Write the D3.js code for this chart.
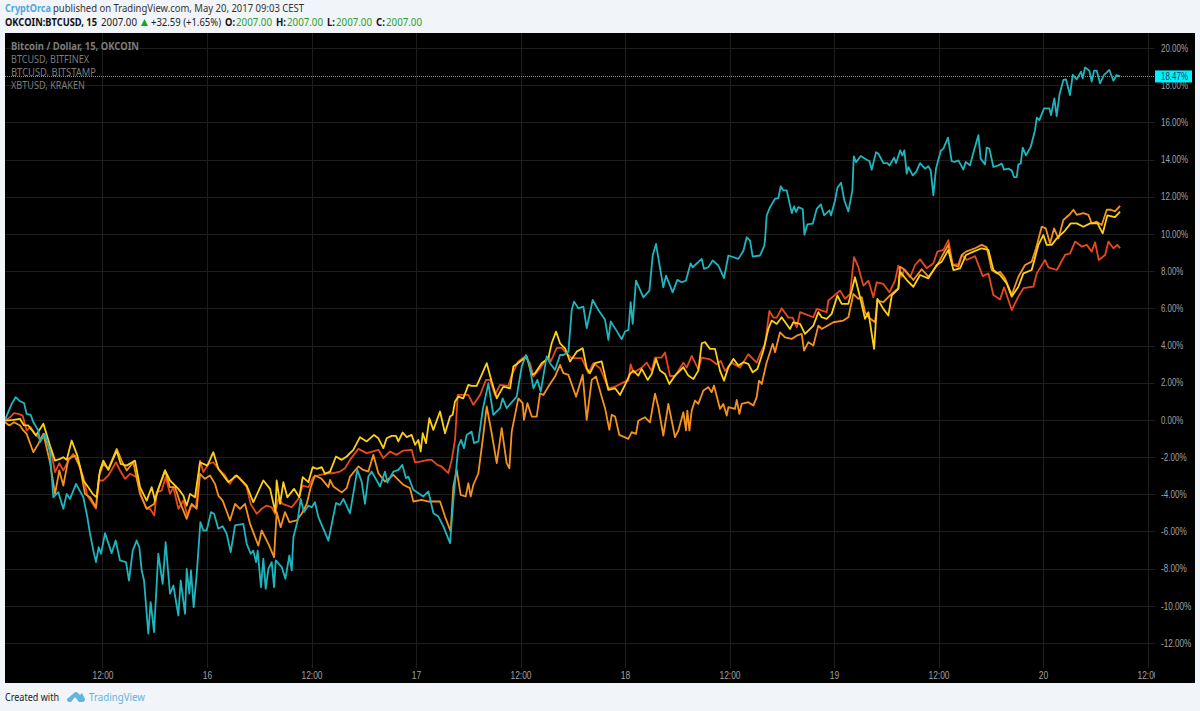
<!DOCTYPE html>
<html><head><meta charset="utf-8">
<script src="https://d3js.org/d3.v7.min.js"></script>
<style>html,body{margin:0;padding:0;background:#f1f4f8}svg{display:block}</style>
</head><body><svg id="c" width="1200" height="711"></svg>
<script>
// Each series: [hours since May 15 00:00, % change]
const okcoin = [[.8,0],[1.57,.86],[2.03,1.22],[2.53,1],[2.99,.9],[3.29,.32],[3.75,.27],[4.06,-.13],[4.63,-.57],[4.82,-1.2],[5.4,-.75],[5.97,-1.74],[6.35,-4.16],[6.93,-3.89],[7.5,-4.78],[7.89,-3.98],[8.27,-4.25],[8.96,-3.44],[9.8,-4.16],[10.26,-5.23],[10.57,-6.13],[10.95,-7.03],[11.25,-7.65],[11.56,-6.85],[11.83,-7.2],[12.29,-6.09],[13.05,-7.17],[13.51,-6.49],[14.01,-7.56],[14.7,-7.65],[15.04,-8.64],[15.47,-7.03],[15.92,-6.49],[16.23,-6.85],[16.5,-8.1],[16.77,-8.64],[17.26,-11.5],[17.53,-9.8],[17.92,-11.42],[18.41,-7.2],[18.91,-8.82],[19.25,-6.58],[19.75,-9.35],[20.14,-8.91],[20.71,-10.52],[20.98,-8.64],[21.48,-10.43],[21.67,-8.01],[21.97,-9.35],[22.16,-8.1],[22.47,-10.07],[22.82,-8.28],[23.24,-5.5],[23.58,-5.95],[23.96,-5.95],[24.46,-4.96],[24.81,-5.05],[25.3,-5.86],[25.8,-5.72],[26.26,-6.13],[26.72,-7.11],[27.22,-5.68],[28.17,-5.59],[28.56,-6.67],[29.02,-7.2],[29.32,-7.03],[29.63,-7.65],[29.82,-7.03],[30.2,-9],[30.47,-7.47],[30.74,-9.09],[31.05,-8.01],[31.43,-7.65],[31.7,-9],[31.89,-7.56],[32.58,-7.92],[33,-8.55],[33.46,-7.29],[33.73,-8.1],[33.92,-6.31],[34.41,-5.41],[34.76,-4.25],[35.14,-4.96],[35.64,-4.61],[36.02,-4.7],[36.4,-4.43],[36.79,-5.23],[37.94,-6.49],[38.81,-4.48],[39.27,-4.57],[39.66,-4.25],[40.42,-5.02],[41.26,-2.69],[41.76,-3.32],[42.14,-4.52],[42.53,-3.05],[42.91,-2.78],[43.87,-3.58],[44.44,-2.78],[44.71,-3.37],[45.4,-2.78],[45.97,-2.69],[46.43,-2.42],[46.85,-3.14],[47.12,-3.05],[47.7,-3.76],[48.84,-4.12],[49.42,-3.85],[50,-5.02],[50.57,-5.2],[51.14,-5.73],[51.91,-6.63],[52.29,-4.3],[52.86,-1.43],[53.17,-1.08],[53.51,-1.52],[53.82,-.81],[54.39,-.63],[54.66,-1.25],[55.16,-1.16],[55.66,.54],[56.31,1.97],[56.88,.27],[57.65,.63],[57.95,1.16],[58.41,.63],[59.56,1.25],[60.14,2.87],[60.63,3.49],[61.02,2.96],[61.48,1.7],[61.94,2.15],[62.32,1.52],[63.01,3.41],[63.39,3.05],[63.96,2.69],[64.54,3.49],[64.92,3.49],[65.5,3.67],[65.88,5.91],[66.15,6.36],[66.64,6],[67.22,6.09],[67.6,4.93],[68.29,6.45],[68.94,5.91],[69.71,5.38],[70.09,4.3],[70.36,5.29],[70.97,4.84],[71.62,4.34],[72,4.75],[72.4,4.84],[72.65,6.33],[72.88,5.16],[73.26,7.49],[74.11,6.59],[74.8,6.95],[75.18,8.84],[75.56,9.46],[75.94,8.39],[76.4,7.13],[76.71,7.76],[77.47,6.86],[78.01,7.53],[78.51,7.4],[79,7.49],[79.54,8.42],[79.77,8.21],[80.81,8.66],[81.07,8.12],[81.57,8.21],[82.07,8.57],[82.72,8.3],[83.37,7.63],[83.87,8.84],[85.02,8.66],[85.6,9.1],[85.97,9.82],[86.36,9.64],[86.66,8.78],[87.5,8.84],[88.0,9.37],[88.08,9.69],[88.27,11],[88.66,11.44],[89.23,11.89],[89.61,11.93],[89.88,12.56],[90.19,12.34],[90.57,12.34],[91.15,11.12],[91.41,11.48],[91.64,11.18],[91.91,11.44],[92.41,11.34],[92.6,9.96],[92.94,10.51],[93.56,10.55],[94.02,11.35],[94.48,11.59],[94.86,11],[95.47,11.27],[95.66,11],[96.12,11.8],[96.39,12.48],[96.81,12.75],[97.19,11.8],[97.65,11.21],[98.11,12.34],[98.27,14.17],[98.53,13.86],[99.07,14.19],[99.38,14.1],[99.76,13.99],[100.06,13.92],[100.33,13.45],[100.83,14.4],[101.1,14.31],[101.67,13.81],[102.13,13.81],[102.36,13.68],[102.9,14.1],[103.13,13.81],[103.59,14.49],[103.85,14.22],[104.08,14.49],[104.35,13.24],[104.54,13.6],[105.04,13.15],[105.42,13.33],[105.88,13.81],[106.45,13.51],[106.83,13.64],[107.1,13.42],[107.41,12.07],[107.71,13.51],[108.25,14.46],[108.56,14.59],[109.09,15.18],[109.51,13.92],[109.82,13.87],[110.28,13.96],[110.85,13.46],[111.12,13.87],[111.62,13.69],[112.08,14.5],[112.58,15.31],[112.84,14.05],[113.34,13.74],[113.53,14.64],[113.84,14.59],[114.3,13.6],[114.87,13.69],[115.26,13.78],[115.52,13.46],[116.02,13.51],[116.4,13.42],[116.67,13.06],[116.98,13.06],[117.17,13.74],[117.44,13.78],[117.67,14.64],[118.05,14.23],[118.59,14.68],[119.08,15.58],[119.28,16.26],[119.58,16.12],[120.12,16.75],[120.73,16.75],[120.92,16.39],[121.3,17.29],[121.57,16.33],[121.88,17.47],[122.34,18.28],[122.64,18.31],[123.1,17.47],[123.41,18.55],[123.87,18.31],[124.37,18.73],[124.56,18.37],[124.83,18.96],[125.32,18.78],[125.59,18.19],[125.86,18.78],[126.17,18.78],[126.55,18.1],[127.01,18.55],[127.62,18.82],[128.08,18.24],[128.46,18.55],[128.85,18.47]];
const bitfinex = [[.8,-.04],[1.38,.14],[1.84,.36],[2.34,.32],[2.83,.23],[3.29,-.57],[3.75,-.39],[4.25,-.75],[4.82,-1.02],[5.21,-.84],[5.78,-1.38],[6.16,-1.83],[6.55,-2.81],[7.04,-2.33],[7.5,-2.72],[8.08,-2.19],[8.65,-1.83],[9.23,-2.37],[9.8,-3.08],[10.26,-4.07],[10.76,-4.43],[11.25,-4.78],[11.6,-3.26],[12.1,-3.26],[12.67,-2.99],[13.55,-2.28],[14.01,-2.72],[14.59,-3.17],[15.16,-2.9],[15.92,-3.08],[16.5,-4.16],[17.07,-4.78],[17.46,-4.78],[17.95,-5.14],[18.22,-3.89],[18.8,-3.8],[19.25,-3.08],[19.75,-3.98],[20.14,-3.62],[20.71,-4.78],[21.28,-4.34],[21.74,-5.14],[22.13,-4.61],[22.74,-4.7],[23.2,-2.19],[23.58,-2.81],[24.16,-2.37],[24.73,-2.28],[25.3,-2.63],[26.07,-2.99],[26.64,-3.44],[27.22,-2.99],[27.79,-3.17],[28.56,-3.62],[29.02,-4.52],[29.71,-5.05],[30.28,-4.78],[30.85,-4.61],[31.43,-4.7],[31.81,-5.05],[32.19,-4.25],[32.69,-4.52],[33.73,-4.7],[34.49,-4.25],[34.99,-3.53],[35.64,-3.62],[36.21,-3.08],[36.79,-2.99],[37.55,-2.9],[37.93,-2.87],[38.51,-2.87],[39.27,-2.78],[39.85,-2.6],[40.42,-2.15],[41.38,-1.56],[42.34,-1.79],[43.68,-1.61],[44.25,-2.06],[45.02,-1.7],[45.78,-1.88],[46.55,-1.65],[47.5,-1.61],[47.89,-2.29],[48.46,-2.24],[49.42,-2.15],[49.8,-2.15],[50.45,-2.42],[50.95,-2.51],[51.71,-2.87],[52.1,-2.15],[52.48,-1.08],[52.79,1.34],[53.44,1.34],[54.01,1.34],[54.59,.81],[55.35,1.34],[56.04,2.15],[56.5,2.15],[57.07,1.34],[57.65,1.88],[58.6,1.83],[58.99,2.42],[59.75,3.14],[60.52,3.41],[61.09,3.05],[61.48,2.33],[62.24,2.78],[63.2,3.41],[63.47,3.14],[64.16,3.87],[64.73,3.87],[65.3,3.58],[65.88,3.32],[67.03,3.32],[67.79,2.51],[68.37,3.05],[69.13,2.78],[70.09,1.7],[70.86,1.79],[72,2.06],[72.38,2.11],[72.65,2.99],[72.96,2.54],[73.92,2.81],[74.49,3.08],[75.06,2.63],[75.45,3.35],[76.21,3.35],[76.59,3.62],[77.17,2.36],[77.74,2.36],[78.7,3.08],[79.08,2.81],[79.66,3.44],[80.42,2.72],[80.81,3.35],[81.76,3.26],[82.53,2.99],[82.99,3.17],[83.49,2.63],[84.25,3.08],[85.21,2.81],[86.16,3.53],[87.12,3.08],[87.5,3.53],[88.08,4.07],[88.58,5.86],[89.04,5.5],[89.42,5.5],[89.99,6],[90.76,5.5],[91.26,5.5],[91.72,4.98],[92.1,5.79],[93.63,5.52],[94.01,5.97],[95.16,5.79],[95.35,6.42],[96.69,6.95],[97.27,6.51],[97.84,6.77],[98.3,8.75],[98.8,8.21],[99.37,7.22],[99.95,7.49],[100.52,6.59],[100.9,7.4],[101.67,7.31],[102.36,6.86],[103.01,7.49],[103.39,8.3],[103.78,7.7],[104.04,8.06],[104.73,7.67],[105.31,8.33],[105.88,8.63],[106.65,8.15],[107.41,8.42],[107.87,9.05],[108.56,9.14],[109.13,9.67],[109.63,8.33],[110.28,8.38],[110.67,8.87],[111.24,8.6],[112.2,8.81],[113.08,7.73],[113.73,7.87],[114.3,6.72],[115.07,6.48],[115.53,7.13],[116.41,5.91],[117.17,6.63],[117.75,7.08],[118.9,7.17],[119.28,7.88],[120.23,8.6],[120.62,8.2],[121.58,8.06],[122.53,8.87],[123.11,8.96],[123.68,9.59],[124.45,9.32],[125.02,9.41],[125.59,9.05],[125.98,9.55],[126.4,8.6],[127.13,8.87],[127.51,9.59],[128.08,9.23],[128.54,9.41],[128.85,9.23]];
const bitstamp = [[.8,-.13],[1.3,-.3],[1.84,-.13],[2.53,-.3],[2.91,-.57],[3.29,-.75],[4.06,-1.74],[4.63,-1.29],[5.21,-.75],[5.97,-2.28],[6.55,-3.98],[7.04,-2.72],[7.5,-3.53],[8.08,-2.1],[8.84,-1.92],[9.42,-2.54],[9.99,-3.98],[10.57,-4.16],[11.25,-4.7],[11.6,-2.99],[12.1,-2.37],[12.67,-2.63],[13.63,-1.56],[14.2,-2.19],[14.78,-2.72],[15.54,-2.28],[16.31,-3.98],[17.07,-4.78],[17.92,-4.52],[18.22,-3.98],[19.18,-2.72],[19.75,-3.62],[20.33,-3.62],[20.9,-4.43],[21.67,-5.32],[22.24,-4.52],[22.82,-4.78],[23.2,-2.9],[23.77,-3.17],[24.35,-2.99],[24.92,-3.44],[25.3,-4.07],[25.8,-4.34],[26.64,-5.41],[27.22,-4.52],[27.79,-4.79],[28.37,-4.52],[28.94,-5.59],[29.9,-6.76],[30.28,-5.95],[31.05,-6.67],[31.7,-7.38],[32,-4.96],[32.46,-5.77],[32.96,-4.96],[33.46,-5.5],[34.3,-5.41],[34.87,-5.05],[35.45,-4.52],[35.91,-3.62],[36.4,-2.99],[37.17,-3.17],[37.94,-3.62],[38.13,-3.23],[38.51,-3.58],[39.47,-3.9],[40.04,-3.67],[40.42,-3.05],[41.38,-2.51],[41.95,-2.69],[42.53,-2.78],[43.1,-1.88],[43.68,-2.87],[44.44,-3.32],[45.4,-2.96],[46.55,-3.49],[47.31,-3.67],[47.7,-4.39],[48.65,-4.3],[49.42,-4.39],[50.76,-4.39],[51.33,-5.2],[51.98,-6],[52.29,-3.58],[52.67,-2.69],[53.13,-4.03],[53.7,-4.12],[54.01,-3.41],[54.28,-4.12],[54.59,-3.49],[55.16,-2.87],[55.66,-1.08],[56.12,.72],[56.69,-.72],[57.27,-2.33],[57.84,-.45],[58.41,-2.33],[58.72,-2.6],[58.99,-.63],[59.75,1.16],[60.25,.9],[60.4,0],[60.79,.9],[61.29,.18],[61.86,.18],[62.24,1.43],[62.62,1.34],[63.2,1.79],[63.96,2.33],[64.54,2.96],[64.92,2.51],[65.5,2.42],[66.38,1.25],[67.14,2.42],[67.6,0],[68.18,2.15],[68.67,2.33],[69.32,1.25],[69.71,.63],[70.2,-.54],[70.47,.27],[70.86,.18],[71.35,-.81],[72.38,-1.02],[72.77,-.66],[73.26,-.75],[73.53,-.05],[74.3,.14],[74.87,-.13],[75.45,1.41],[75.83,.68],[76.4,-.84],[76.98,.86],[77.74,-.93],[78.13,-.57],[78.7,.41],[79,-.57],[79.16,.5],[79.39,-.57],[79.66,.5],[80.04,1.04],[80.42,.86],[81,1.58],[81.57,1.76],[81.95,1.49],[82.22,1.85],[82.91,.59],[83.29,.86],[83.68,.23],[83.87,.68],[84.63,.59],[84.83,1.08],[85.13,.32],[85.4,.86],[86.16,.95],[86.74,.77],[87.12,1.22],[87.39,2.11],[87.7,1.93],[88.27,3.1],[88.65,3.64],[88.96,4.09],[89.23,3.64],[89.8,4.71],[90.37,4.44],[91.14,4.35],[91.72,4.53],[92.29,4.62],[92.56,3.73],[93.06,4.18],[93.63,4],[94.2,5.07],[94.59,4.89],[95.93,5.25],[97.07,5.34],[97.65,5.52],[98.22,6.77],[98.8,6.51],[99.18,6.6],[99.56,5.79],[99.95,5.52],[100.71,5.25],[100.98,6.42],[101.67,6.33],[102.43,6.69],[103.39,7.08],[103.58,8.24],[104.16,8.06],[105.11,7.52],[106.07,8.1],[106.84,7.7],[107.87,8.33],[108.37,8.78],[109.13,9.41],[109.63,8.33],[110.28,8.24],[110.67,8.87],[111.16,9.05],[112.2,9.23],[112.96,9.41],[113.54,9.28],[114.11,8.06],[114.68,7.88],[115.07,7.97],[115.64,7.61],[116.41,6.72],[117.17,7.7],[117.94,8.33],[118.7,8.51],[119.2,9.23],[119.85,10.39],[120.31,10.3],[120.81,9.49],[121.27,10.3],[121.77,9.76],[122.34,10.75],[123.11,11.07],[123.49,11.3],[123.87,11.03],[124.64,11.12],[125.21,11.03],[125.59,10.57],[126.17,10.66],[126.74,10.48],[127.32,11.3],[127.78,11.3],[128.27,11.21],[128.85,11.51]];
const kraken = [[.8,-.04],[1.76,0],[2.53,.05],[2.99,-.3],[3.48,-.3],[4.36,-.84],[5.21,-.21],[5.97,-1.38],[6.55,-2.19],[7.12,-2.1],[7.5,-2.01],[7.89,-2.15],[8.46,-1.11],[9.11,-1.92],[9.8,-3.26],[10.37,-3.62],[10.87,-3.98],[11.33,-4.16],[11.71,-2.72],[12.1,-2.19],[12.67,-2.69],[13.63,-1.65],[14.09,-2.37],[14.78,-2.46],[15.73,-2.19],[16.31,-3.62],[17.07,-4.34],[17.65,-3.62],[18.03,-4.34],[18.41,-3.71],[19.18,-2.72],[19.75,-3.26],[20.71,-3.71],[21.28,-4.07],[21.67,-4.61],[22.05,-3.98],[22.62,-4.16],[23.2,-2.28],[24.04,-2.46],[24.73,-1.74],[25.3,-2.63],[26.45,-3.35],[27.41,-2.99],[28.56,-3.53],[29.32,-4.43],[30.47,-3.26],[31.24,-3.71],[31.85,-4.96],[32,-3.26],[32.39,-4.52],[32.77,-3.35],[33.23,-4.16],[33.99,-3.71],[34.61,-4.16],[34.99,-3.08],[35.64,-3.35],[36.14,-2.54],[36.6,-2.63],[37.17,-2.54],[37.55,-2.9],[38.13,-2.78],[38.81,-1.97],[39.47,-2.15],[40.04,-1.97],[40.8,-1.61],[41.57,-.93],[42.34,-1.16],[43.18,-.81],[43.68,-.99],[44.25,-1.52],[44.63,-.99],[45.21,-.86],[45.7,-.86],[45.97,-1.16],[46.47,-.68],[46.93,-.93],[47.5,-.81],[47.89,-1.34],[48.27,-1.08],[48.54,-1.7],[48.77,-.72],[49.15,-1.25],[49.53,.09],[49.99,-.54],[50.76,.45],[51.33,-.72],[51.91,.18],[52.21,.27],[52.48,.99],[52.86,1.25],[53.44,1.16],[54.01,1.88],[54.39,1.83],[54.97,1.83],[55.54,2.42],[56.12,3.05],[56.69,2.06],[57.27,1.16],[58.03,1.79],[58.8,1.7],[59.18,2.87],[59.95,3.14],[60.71,3.41],[61.29,2.42],[61.67,2.51],[62.43,3.05],[63.2,3.32],[63.58,4.12],[64.08,4.75],[64.54,4.12],[65.11,3.85],[65.69,3.14],[66.45,3.67],[67.14,3.85],[67.6,2.78],[67.98,2.51],[68.56,3.05],[69.32,3.14],[70.09,1.61],[70.86,1.7],[71.43,1.34],[72,1.88],[72.58,2.47],[72.96,2.65],[73.53,2.38],[73.92,2.74],[74.6,2.15],[75.06,2.47],[75.56,3.28],[76.02,2.65],[76.59,2.47],[77.09,1.93],[77.74,2.38],[78.7,2.83],[79.27,2.38],[79.85,2.2],[80.42,2.65],[80.81,4.12],[81.19,4.18],[81.76,3.82],[82.34,3.82],[82.91,2.65],[83.37,2.11],[83.87,2.83],[84.44,3.28],[85.02,2.92],[85.6,3.1],[86.16,3.01],[86.66,2.56],[87.2,2.74],[87.89,3.73],[88.46,4.9],[88.84,5.34],[89.42,5.16],[89.99,5.52],[90.95,4.89],[91.33,5.25],[92.1,5.16],[92.67,4.62],[93.63,5.07],[94.2,5.79],[94.59,5.52],[95.16,5.43],[95.73,5.7],[96.39,6.69],[96.88,6.24],[97.65,6.24],[98.41,7.67],[98.99,6.6],[99.56,5.43],[99.95,5.79],[100.6,3.82],[100.98,6.51],[101.67,5.97],[102.24,5.61],[102.63,6.69],[103.39,7.05],[103.58,7.97],[104.35,7.52],[105.11,7.16],[105.88,7.79],[106.84,7.61],[107.79,8.33],[108.37,8.51],[109.13,9.14],[109.71,8.06],[110.47,8.15],[111.16,8.87],[112.01,9.05],[112.96,9.23],[113.73,9.14],[114.3,8.06],[115.07,7.79],[115.83,7.34],[116.41,6.63],[117.17,7.16],[117.75,7.88],[118.7,8.06],[119.47,9.41],[120.04,9.94],[120.43,9.41],[121,9.41],[121.58,9.76],[122.42,10.12],[123.18,10.57],[123.87,10.57],[124.64,10.39],[125.4,10.57],[126.25,10.57],[126.86,10.03],[127.39,11],[128.27,10.91],[128.85,11.2]];

const yTicks = [20,18,16,14,12,10,8,6,4,2,0,-2,-4,-6,-8,-10,-12];
const xTickHours = [12,24,36,48,60,72,84,96,108,120,132];
const xTickLabels = ["12:00","16","12:00","17","12:00","18","12:00","19","12:00","20","12:00"];
const legendLabels = ["Bitcoin / Dollar, 15, OKCOIN","BTCUSD, BITFINEX","BTCUSD, BITSTAMP","XBTUSD, KRAKEN"];
const legendWidths = [128,78,85,74];
const lastPct = 18.47;

const FONT = '"Noto Sans", sans-serif', AXF = '"Liberation Sans", Arial, sans-serif';
const svg = d3.select("#c");
svg.append("rect").attr("width",1200).attr("height",711).attr("fill","#f1f4f8");
svg.append("rect").attr("x",5).attr("y",33).attr("width",1190).attr("height",650).attr("fill","#000");

const x = d3.scaleLinear().domain([.804,132.86]).range([5,1155]);
const y = d3.scaleLinear().domain([-12,20]).range([643,48]);

const defs = svg.append("defs");
defs.append("clipPath").attr("id","pane").append("rect").attr("x",5).attr("y",33).attr("width",1150).attr("height",650);

// width of an axis label, matched to the reference's narrow face
const axisWidth = s => { let w=0; for (const c of s) w += c==="%"?6:c==="."?2.2:c==="-"?3.3:c===":"?2.2:4.7; return w; };

// grid
const grid = svg.append("g").attr("stroke","#1e1e1e").attr("stroke-width",1);
grid.selectAll("line.h").data(yTicks).join("line").attr("x1",5).attr("x2",1155)
  .attr("y1",d=>Math.round(y(d))+.5).attr("y2",d=>Math.round(y(d))+.5);
grid.selectAll("line.v").data(xTickHours).join("line").attr("y1",33).attr("y2",668)
  .attr("x1",d=>Math.round(x(d))+.5).attr("x2",d=>Math.round(x(d))+.5);

// axes
const yAxis = d3.axisRight(y).tickValues(yTicks).tickSize(0).tickPadding(0).tickFormat(d=>d.toFixed(2)+"%");
const gy = svg.append("g").attr("transform","translate(1161,0)").call(yAxis);
gy.select(".domain").remove();
gy.selectAll("text").attr("text-anchor","start").attr("fill","#a0a0a0").style("font",`10px ${AXF}`)
  .attr("textLength",function(){return axisWidth(this.textContent);}).attr("lengthAdjust","spacingAndGlyphs");

const xAxis = d3.axisBottom(x).tickValues(xTickHours).tickSize(0).tickPadding(0).tickFormat((d,i)=>xTickLabels[i]);
const gx = svg.append("g").attr("clip-path","url(#pane)").append("g").attr("transform","translate(0,672)").call(xAxis);
gx.select(".domain").remove();
gx.selectAll("text").attr("fill","#a0a0a0").style("font",`10px ${AXF}`)
  .attr("textLength",function(){return axisWidth(this.textContent);}).attr("lengthAdjust","spacingAndGlyphs");

// lines
const line = d3.line().x(d=>x(d[0])).y(d=>y(d[1]));
const seriesList = [[bitfinex,"#e8481c"],[bitstamp,"#f5921f"],[kraken,"#fdd017"],[okcoin,"#1fb5bd"]];
svg.append("g").attr("clip-path","url(#pane)").selectAll("path").data(seriesList).join("path")
  .attr("d",d=>line(d[0])).attr("fill","none").attr("stroke",d=>d[1]).attr("stroke-width",1.8).attr("stroke-linejoin","round");

// last-price line and label
svg.append("line").attr("x1",5).attr("x2",1155).attr("y1",Math.round(y(lastPct))+.5).attr("y2",Math.round(y(lastPct))+.5)
  .attr("stroke","#1fb5bd").attr("stroke-width",1).attr("stroke-dasharray","1 1").attr("shape-rendering","crispEdges");
svg.append("rect").attr("x",1155).attr("y",y(lastPct)-6).attr("width",37).attr("height",12).attr("fill","#00f2ff");
svg.append("text").attr("x",1161).attr("y",y(lastPct)+3.5).attr("fill","#335").style("font",`10px ${AXF}`)
  .attr("textLength",axisWidth("18.47%")).attr("lengthAdjust","spacingAndGlyphs").text(lastPct.toFixed(2)+"%");

// legend
svg.append("g").selectAll("text").data(legendLabels).join("text").attr("x",11).attr("y",(d,i)=>49.5+i*13)
  .attr("fill","#7c7c7c").style("font",(d,i)=>`${i==0?"bold ":""}10.5px ${FONT}`)
  .attr("textLength",(d,i)=>legendWidths[i]).attr("lengthAdjust","spacingAndGlyphs").text(d=>d);

// header
const t = (xp,yp,s,fill,bold,w)=>svg.append("text").attr("x",xp).attr("y",yp).attr("fill",fill)
  .style("font",`${bold?"bold ":""}11px ${FONT}`).attr("textLength",w).attr("lengthAdjust","spacingAndGlyphs").text(s);
t(5,12,"CryptOrca","#4fa8dc",true,46);
t(53,12,"published on TradingView.com, May 20, 2017 09:03 CEST","#333",false,251);
t(5,26,"OKCOIN:BTCUSD, 15","#111",true,92);
t(101,26,"2007.00","#222",false,36);
svg.append("path").attr("d","M141 26L144.5 19L148 26Z").attr("fill","#1aa61a");
t(151,26,"+32.59 (+1.65%)","#222",false,70);
[["O:",225,236,10],["H:",276,287,10],["L:",327,336,8],["C:",376,386,9]].forEach(a=>{
  t(a[1],26,a[0],"#111",true,a[3]); t(a[2],26,"2007.00","#2ca02c",false,36);
});

// footer
t(5,701,"Created with","#222",false,54);
svg.append("path").attr("d","M67 699 L74 693 Q76 691 78 693 L80 695 L82 693 L85 699 Q85 702 82 702 L79 702 L75 697 L71 702 L69 702 Q67 702 67 699Z").attr("fill","#62b6dc");
t(89,701,"TradingView","#62b6dc",false,56);
</script></body></html>
